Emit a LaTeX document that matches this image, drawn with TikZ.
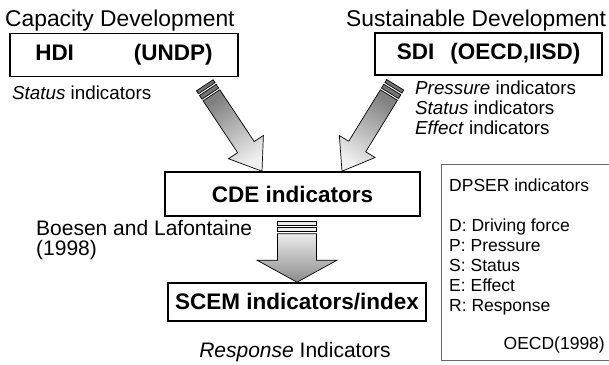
\documentclass[tikz,border=0pt]{standalone}
\usepackage{fontspec}
\setmainfont{Liberation Sans}
\usetikzlibrary{calc,positioning}
\tikzset{
	headtext/.style={font=\fontsize{22.8}{27}\selectfont, anchor=base west, inner sep=0pt},
	notetext/.style={font=\fontsize{18.8}{20}\selectfont, anchor=base west, inner sep=0pt},
	sourcetext/.style={font=\fontsize{21}{24}\selectfont, anchor=base west, inner sep=0pt},
	keytext/.style={font=\fontsize{17.5}{20}\selectfont, anchor=base west, inner sep=0pt},
	indexbox/.style={rectangle, draw=black, line width=1.6pt, font=\fontsize{22.5}{26}\selectfont\bfseries, inner sep=0pt},
	keybox/.style={rectangle, draw=black!60, line width=0.9pt, inner sep=0pt},
	arrowedge/.style={draw=black, line width=0.7pt}
}
% fat shaded arrow: tail, tip, half shaft, half head, head length, stripe fill, shading
\newcommand{\blockarrow}[7]{%
	\coordinate (ba1) at ($(#1)!3.5pt!(#2)$);
	\coordinate (ba2) at ($(#1)!5.5pt!(#2)$);
	\coordinate (ba3) at ($(#1)!10pt!(#2)$);
	\coordinate (ba4) at ($(#1)!12pt!(#2)$);
	\coordinate (ba5) at ($(#2)!#5!(#1)$);
	\foreach \a/\b in {#1/ba1,ba2/ba3}
		\draw[arrowedge, fill=#6] ($(\a)!#3!90:(#2)$) -- ($(\b)!#3!90:(#2)$) -- ($(\b)!#3!-90:(#2)$) -- ($(\a)!#3!-90:(#2)$) -- cycle;
	\draw[arrowedge, #7] ($(ba4)!#3!90:(#2)$) -- ($(ba5)!#3!90:(#2)$) -- ($(ba5)!#4!90:(#2)$) -- (#2)
		-- ($(ba5)!#4!-90:(#2)$) -- ($(ba5)!#3!-90:(#2)$) -- ($(ba4)!#3!-90:(#2)$) -- cycle;
}

\begin{document}
\begin{tikzpicture}[x=1pt, y=-1pt]
	\useasboundingbox (0,0) rectangle (609,364);
	% two sources
	\node[headtext] (capdev) at (5,26) {Capacity Development};
	\node[indexbox, minimum width=228pt, minimum height=43pt] (hdi) at (124,55) {HDI\hspace{60pt}(UNDP)};
	\node[notetext] (hdinote) at (12,99) {\textit{Status} indicators};
	\node[headtext] (susdev) at (346,26) {Sustainable Development};
	\node[indexbox, minimum width=227pt, minimum height=42pt] (sdi) at (488.5,54) {SDI\hspace{16pt}(OECD,IISD)};
	\node[notetext] (sdinote1) at (415,94) {\textit{Pressure} indicators};
	\node[notetext] (sdinote2) at (415,114) {\textit{Status} indicators};
	\node[notetext] (sdinote3) at (415,134) {\textit{Effect} indicators};

	% combined and final
	\node[indexbox, minimum width=255pt, minimum height=44pt] (cde) at (292.5,194) {CDE indicators};
	\node[sourcetext] (boesen) at (36,235) {Boesen and Lafontaine};
	\node[sourcetext] (boesenyr) at (36,255) {(1998)};
	\node[indexbox, minimum width=258pt, minimum height=38pt] (scem) at (297,302) {SCEM indicators/index};
	\node[sourcetext, anchor=base] (scemnote) at (295,357) {\textit{Response} Indicators};

	% key box
	\node[keybox, minimum width=172pt, minimum height=196pt] (dpser) at (527,262) {};
	\node[keytext] (dpsertitle) at (449,191) {DPSER indicators};
	\foreach \txt [count=\k] in {D: Driving force, P: Pressure, S: Status, E: Effect, R: Response}
		\node[keytext] (key\k) at (449,211+20*\k) {\txt};
	\node[keytext, anchor=base east] (oecd) at (605,349) {OECD(1998)};

	% arrows
	\coordinate (lefttail) at ([shift={(-34,8)}]hdi.south east);
	\coordinate (lefttip) at ([xshift=-30.5pt]cde.north);
	\coordinate (righttail) at ([shift={(21,9)}]sdi.south west);
	\coordinate (righttip) at ([xshift=49.5pt]cde.north);
	\coordinate (downtail) at ([shift={(4.5,5)}]cde.south);
	\coordinate (downtip) at (scem.north);
	\blockarrow{lefttail}{lefttip}{10pt}{21pt}{29pt}{black!55}{top color=black!50, bottom color=black!6, shading angle=33.4}
	\blockarrow{righttail}{righttip}{10pt}{21pt}{29pt}{black!55}{top color=black!50, bottom color=black!6, shading angle=-31.5}
	\blockarrow{downtail}{downtip}{19.5pt}{40pt}{22pt}{black!8}{top color=black!8, bottom color=black!45}
\end{tikzpicture}
\end{document}
